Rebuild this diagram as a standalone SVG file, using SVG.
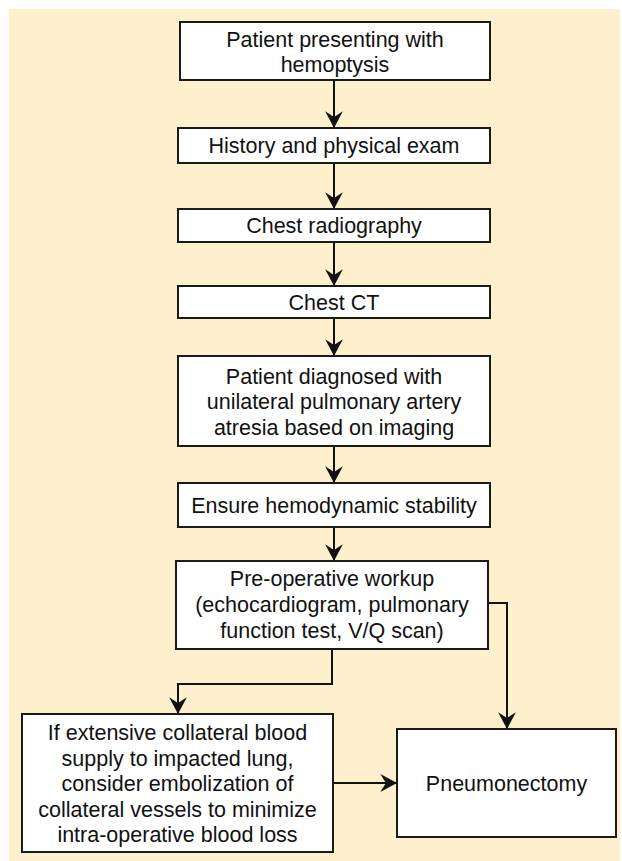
<svg xmlns="http://www.w3.org/2000/svg" width="622" height="861" viewBox="0 0 622 861">
  <defs>
    <marker id="arr" markerUnits="userSpaceOnUse" markerWidth="20" markerHeight="20" viewBox="-16 -9 17 18" refX="0" refY="0" orient="auto">
      <path d="M0,0 L-15,-8 L-10,0 L-15,8 Z" fill="#111"/>
    </marker>
  </defs>
  <style>
    .box { fill: #ffffff; stroke: #1a1a1a; stroke-width: 2; }
    .t { font-family: "Liberation Sans", Arial, Helvetica, sans-serif; font-size: 21.5px; fill: #111; text-anchor: middle; }
    .c { fill: none; stroke: #111; stroke-width: 2; }
  </style>
  <rect x="0" y="0" width="622" height="861" fill="#ffffff"/>
  <rect x="9" y="9" width="611" height="852" fill="#fef0cd"/>

  <g id="connectors">
    <path class="c" d="M334,80 V128" marker-end="url(#arr)"/>
    <path class="c" d="M334,163 V209" marker-end="url(#arr)"/>
    <path class="c" d="M334,242 V286" marker-end="url(#arr)"/>
    <path class="c" d="M334,318 V356" marker-end="url(#arr)"/>
    <path class="c" d="M334,446 V483" marker-end="url(#arr)"/>
    <path class="c" d="M334,527 V561" marker-end="url(#arr)"/>
    <path class="c" d="M332,649 V684 H178 V714" marker-end="url(#arr)"/>
    <path class="c" d="M488,603 H507 V729" marker-end="url(#arr)"/>
    <path class="c" d="M333,783 H397" marker-end="url(#arr)"/>
  </g>

  <g id="n1">
    <rect class="box" x="180" y="22" width="310" height="58"/>
    <text class="t" x="335" y="47">Patient presenting with</text>
    <text class="t" x="335" y="72">hemoptysis</text>
  </g>
  <g id="n2">
    <rect class="box" x="178" y="128" width="312" height="35"/>
    <text class="t" x="334" y="153">History and physical exam</text>
  </g>
  <g id="n3">
    <rect class="box" x="178" y="209" width="312" height="33"/>
    <text class="t" x="334" y="233">Chest radiography</text>
  </g>
  <g id="n4">
    <rect class="box" x="178" y="286" width="312" height="32"/>
    <text class="t" x="334" y="309.5">Chest CT</text>
  </g>
  <g id="n5">
    <rect class="box" x="178" y="356" width="312" height="90"/>
    <text class="t" x="334" y="383.5">Patient diagnosed with</text>
    <text class="t" x="334" y="409">unilateral pulmonary artery</text>
    <text class="t" x="334" y="434.5">atresia based on imaging</text>
  </g>
  <g id="n6">
    <rect class="box" x="178" y="483" width="312" height="44"/>
    <text class="t" x="334" y="512.5">Ensure hemodynamic stability</text>
  </g>
  <g id="n7">
    <rect class="box" x="176" y="561" width="312" height="88"/>
    <text class="t" x="332" y="586">Pre-operative workup</text>
    <text class="t" x="332" y="612">(echocardiogram, pulmonary</text>
    <text class="t" x="332" y="638">function test, V/Q scan)</text>
  </g>
  <g id="n8">
    <rect class="box" x="22" y="714" width="311" height="138"/>
    <text class="t" x="177.5" y="740">If extensive collateral blood</text>
    <text class="t" x="177.5" y="765.5">supply to impacted lung,</text>
    <text class="t" x="177.5" y="791">consider embolization of</text>
    <text class="t" x="177.5" y="816.5">collateral vessels to minimize</text>
    <text class="t" x="177.5" y="842">intra-operative blood loss</text>
  </g>
  <g id="n9">
    <rect class="box" x="397" y="729" width="219" height="108"/>
    <text class="t" x="506.5" y="790.5">Pneumonectomy</text>
  </g>
</svg>
